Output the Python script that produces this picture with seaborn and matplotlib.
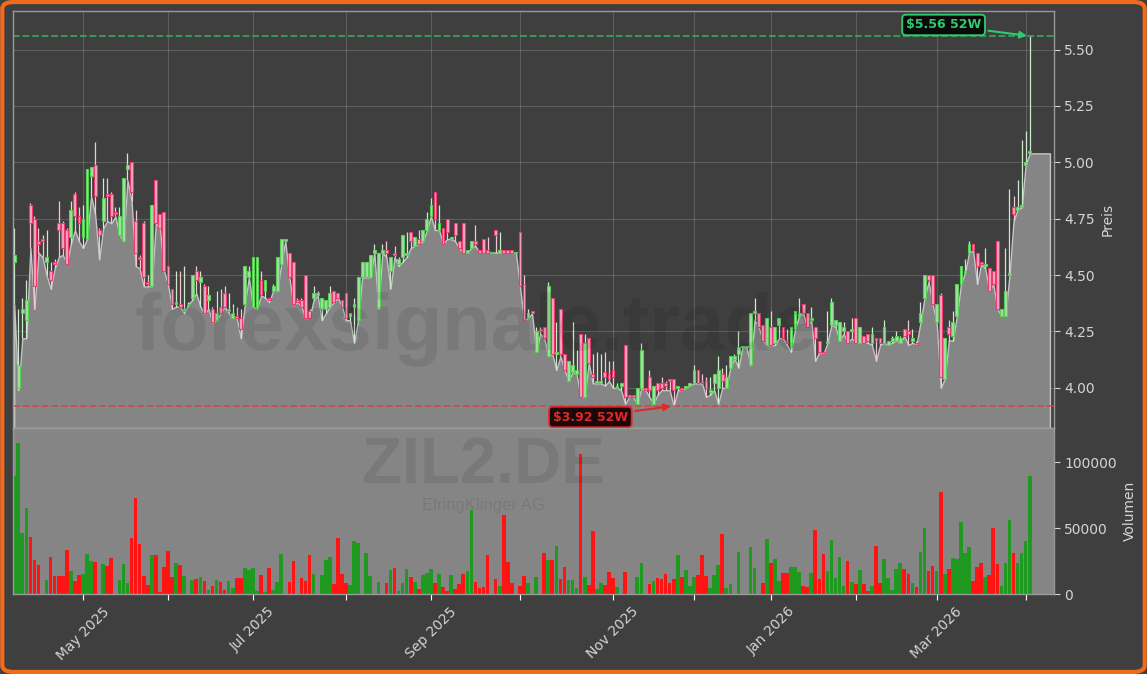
"""
ZIL2.DE (ElringKlinger AG) - Kerzenchart mit Volumen, 52W Hoch/Tief
"""

import matplotlib.pyplot as plt
import numpy as np
import pandas as pd
import seaborn as sns
from matplotlib.patches import FancyBboxPatch
from matplotlib.ticker import FixedLocator, MultipleLocator, FormatStrFormatter

START_DATE = "2025-04-04"
HOLIDAYS = ["2025-04-18", "2025-04-21", "2025-05-01", "2025-12-24", "2025-12-25",
            "2025-12-26", "2025-12-31", "2026-01-01"]

opens = [
    4.56, 4.00, 4.33, 4.30, 4.81, 4.75, 4.65, 4.66, 4.56, 4.52,
    4.56, 4.73, 4.73, 4.70, 4.67, 4.86, 4.76, 4.67, 4.66, 4.94,
    4.99, 4.70, 4.74, 4.86, 4.86, 4.78, 4.68, 4.65, 4.97, 5.00,
    4.74, 4.58, 4.73, 4.47, 4.45, 4.92, 4.77, 4.78, 4.54, 4.44,
    4.37, 4.37, 4.34, 4.37, 4.40, 4.52, 4.47, 4.45, 4.39, 4.35,
    4.30, 4.36, 4.42, 4.34, 4.31, 4.32, 4.31, 4.37, 4.49, 4.36,
    4.35, 4.48, 4.43, 4.40, 4.43, 4.43, 4.55, 4.65, 4.60, 4.56,
    4.39, 4.39, 4.50, 4.34, 4.40, 4.41, 4.35, 4.35, 4.36, 4.43,
    4.42, 4.39, 4.42, 4.32, 4.36, 4.30, 4.49, 4.49, 4.49, 4.60,
    4.35, 4.60, 4.61, 4.52, 4.60, 4.55, 4.58, 4.59, 4.69, 4.63,
    4.66, 4.65, 4.70, 4.76, 4.87, 4.70, 4.71, 4.75, 4.66, 4.73,
    4.65, 4.73, 4.60, 4.62, 4.65, 4.61, 4.66, 4.61, 4.60, 4.70,
    4.60, 4.61, 4.61, 4.61, 4.60, 4.69, 4.46, 4.31, 4.34, 4.16,
    4.26, 4.27, 4.14, 4.40, 4.15, 4.35, 4.15, 4.03, 4.07, 4.06,
    4.24, 3.96, 4.22, 4.06, 4.02, 4.02, 4.07, 4.06, 4.08, 4.00,
    4.01, 4.19, 3.97, 3.97, 3.93, 4.00, 4.00, 4.05, 3.93, 4.02,
    4.02, 4.02, 4.04, 4.04, 4.00, 4.00, 4.00, 4.01, 4.02, 4.08,
    4.03, 4.03, 3.98, 4.02, 4.00, 4.06, 4.00, 4.09, 4.13, 4.15,
    4.18, 4.18, 4.10, 4.33, 4.33, 4.28, 4.19, 4.27, 4.20, 4.28,
    4.27, 4.21, 4.18, 4.26, 4.32, 4.37, 4.33, 4.30, 4.27, 4.21,
    4.16, 4.20, 4.28, 4.28, 4.21, 4.25, 4.25, 4.25, 4.31, 4.20,
    4.23, 4.24, 4.20, 4.22, 4.22, 4.20, 4.19, 4.21, 4.21, 4.20,
    4.26, 4.25, 4.21, 4.20, 4.29, 4.40, 4.50, 4.50, 4.29, 4.41,
    4.04, 4.27, 4.23, 4.32, 4.46, 4.51, 4.60, 4.64, 4.60, 4.56,
    4.54, 4.53, 4.52, 4.65, 4.32, 4.32, 4.50, 4.80, 4.79, 4.80,
    4.99, 5.04,
]
highs = [
    4.71, 4.35, 4.40, 4.48, 4.82, 4.76, 4.71, 4.68, 4.70, 4.56,
    4.57, 4.83, 4.74, 4.71, 4.83, 4.87, 4.80, 4.81, 4.97, 4.98,
    5.09, 4.71, 4.93, 4.93, 4.87, 4.80, 4.80, 4.93, 5.04, 5.00,
    4.79, 4.59, 4.74, 4.50, 4.81, 4.92, 4.77, 4.78, 4.54, 4.44,
    4.52, 4.52, 4.54, 4.38, 4.50, 4.54, 4.52, 4.46, 4.45, 4.36,
    4.43, 4.44, 4.45, 4.42, 4.37, 4.36, 4.35, 4.54, 4.54, 4.58,
    4.58, 4.52, 4.48, 4.40, 4.46, 4.58, 4.66, 4.66, 4.60, 4.56,
    4.40, 4.40, 4.50, 4.35, 4.45, 4.43, 4.40, 4.39, 4.45, 4.43,
    4.42, 4.39, 4.42, 4.33, 4.40, 4.49, 4.56, 4.56, 4.59, 4.64,
    4.60, 4.64, 4.65, 4.58, 4.63, 4.58, 4.68, 4.69, 4.69, 4.67,
    4.70, 4.70, 4.78, 4.84, 4.87, 4.81, 4.71, 4.75, 4.67, 4.73,
    4.65, 4.73, 4.61, 4.65, 4.72, 4.61, 4.66, 4.67, 4.60, 4.70,
    4.69, 4.61, 4.61, 4.61, 4.60, 4.69, 4.50, 4.35, 4.34, 4.27,
    4.27, 4.27, 4.47, 4.40, 4.29, 4.35, 4.15, 4.12, 4.29, 4.17,
    4.24, 4.24, 4.22, 4.15, 4.16, 4.15, 4.16, 4.12, 4.12, 4.02,
    4.02, 4.19, 3.97, 3.97, 4.00, 4.20, 4.00, 4.08, 4.01, 4.02,
    4.05, 4.03, 4.04, 4.04, 4.01, 4.00, 4.01, 4.02, 4.10, 4.08,
    4.06, 4.05, 4.05, 4.06, 4.14, 4.09, 4.10, 4.14, 4.15, 4.25,
    4.18, 4.18, 4.33, 4.40, 4.33, 4.28, 4.31, 4.34, 4.27, 4.31,
    4.27, 4.26, 4.27, 4.34, 4.40, 4.37, 4.33, 4.36, 4.27, 4.21,
    4.16, 4.34, 4.40, 4.30, 4.29, 4.29, 4.25, 4.31, 4.31, 4.27,
    4.23, 4.24, 4.27, 4.22, 4.22, 4.30, 4.21, 4.23, 4.25, 4.23,
    4.26, 4.30, 4.26, 4.21, 4.38, 4.50, 4.50, 4.50, 4.37, 4.42,
    4.22, 4.30, 4.34, 4.46, 4.54, 4.57, 4.65, 4.64, 4.60, 4.56,
    4.62, 4.53, 4.52, 4.65, 4.35, 4.62, 4.88, 4.85, 4.92, 5.10,
    5.14, 5.56,
]
lows = [
    4.37, 3.99, 4.22, 4.22, 4.62, 4.35, 4.60, 4.58, 4.50, 4.44,
    4.53, 4.58, 4.59, 4.55, 4.64, 4.70, 4.65, 4.62, 4.66, 4.85,
    4.77, 4.57, 4.71, 4.74, 4.73, 4.76, 4.68, 4.65, 4.92, 4.83,
    4.54, 4.53, 4.45, 4.45, 4.45, 4.73, 4.71, 4.52, 4.46, 4.35,
    4.36, 4.36, 4.33, 4.37, 4.39, 4.42, 4.36, 4.33, 4.35, 4.29,
    4.30, 4.33, 4.36, 4.33, 4.31, 4.31, 4.22, 4.37, 4.49, 4.36,
    4.35, 4.41, 4.40, 4.38, 4.43, 4.43, 4.55, 4.65, 4.49, 4.37,
    4.38, 4.36, 4.31, 4.31, 4.39, 4.41, 4.30, 4.33, 4.36, 4.38,
    4.40, 4.36, 4.30, 4.30, 4.20, 4.30, 4.49, 4.49, 4.49, 4.60,
    4.35, 4.60, 4.58, 4.44, 4.58, 4.54, 4.56, 4.58, 4.62, 4.63,
    4.64, 4.65, 4.70, 4.76, 4.70, 4.70, 4.64, 4.66, 4.66, 4.65,
    4.62, 4.60, 4.60, 4.62, 4.63, 4.60, 4.60, 4.60, 4.60, 4.60,
    4.60, 4.60, 4.60, 4.60, 4.60, 4.45, 4.30, 4.31, 4.33, 4.16,
    4.24, 4.22, 4.14, 4.15, 4.08, 4.14, 4.08, 4.03, 4.07, 4.06,
    3.96, 3.96, 4.11, 4.02, 4.02, 4.02, 4.01, 4.03, 4.00, 4.00,
    3.99, 3.93, 3.96, 3.96, 3.93, 4.00, 3.99, 3.96, 3.93, 3.97,
    3.99, 3.99, 3.99, 3.92, 3.99, 3.99, 4.00, 4.01, 4.02, 4.02,
    4.02, 3.96, 3.97, 3.99, 3.93, 4.00, 4.00, 4.09, 4.13, 4.09,
    4.18, 4.18, 4.10, 4.30, 4.27, 4.21, 4.19, 4.19, 4.19, 4.22,
    4.22, 4.19, 4.16, 4.26, 4.32, 4.33, 4.27, 4.30, 4.12, 4.16,
    4.15, 4.20, 4.28, 4.27, 4.21, 4.24, 4.20, 4.22, 4.20, 4.20,
    4.20, 4.20, 4.19, 4.12, 4.19, 4.20, 4.19, 4.20, 4.21, 4.20,
    4.23, 4.19, 4.20, 4.19, 4.29, 4.40, 4.47, 4.37, 4.29, 4.00,
    4.04, 4.21, 4.21, 4.32, 4.46, 4.51, 4.60, 4.61, 4.46, 4.55,
    4.53, 4.43, 4.46, 4.35, 4.32, 4.32, 4.50, 4.74, 4.79, 4.80,
    4.99, 5.04,
]
closes = [
    4.59, 4.10, 4.35, 4.39, 4.73, 4.45, 4.64, 4.65, 4.58, 4.48,
    4.55, 4.70, 4.62, 4.55, 4.79, 4.76, 4.73, 4.75, 4.97, 4.98,
    4.85, 4.68, 4.84, 4.85, 4.76, 4.77, 4.76, 4.93, 4.99, 4.87,
    4.60, 4.57, 4.49, 4.46, 4.81, 4.73, 4.71, 4.52, 4.46, 4.37,
    4.38, 4.36, 4.35, 4.37, 4.50, 4.48, 4.49, 4.33, 4.41, 4.29,
    4.33, 4.33, 4.36, 4.35, 4.33, 4.31, 4.26, 4.54, 4.52, 4.58,
    4.58, 4.41, 4.48, 4.39, 4.45, 4.58, 4.66, 4.66, 4.49, 4.37,
    4.38, 4.36, 4.31, 4.31, 4.42, 4.42, 4.40, 4.39, 4.42, 4.38,
    4.40, 4.36, 4.31, 4.33, 4.37, 4.49, 4.56, 4.56, 4.59, 4.61,
    4.60, 4.61, 4.60, 4.58, 4.59, 4.57, 4.68, 4.60, 4.65, 4.67,
    4.64, 4.70, 4.75, 4.81, 4.75, 4.73, 4.64, 4.69, 4.67, 4.68,
    4.62, 4.60, 4.61, 4.65, 4.64, 4.60, 4.60, 4.60, 4.60, 4.68,
    4.61, 4.60, 4.60, 4.60, 4.60, 4.45, 4.30, 4.33, 4.33, 4.25,
    4.25, 4.22, 4.45, 4.15, 4.16, 4.15, 4.08, 4.12, 4.10, 4.08,
    3.96, 4.20, 4.11, 4.05, 4.03, 4.03, 4.05, 4.04, 4.05, 4.01,
    4.02, 3.96, 3.96, 3.96, 4.00, 4.17, 3.99, 3.99, 4.01, 3.99,
    4.00, 4.01, 4.03, 3.99, 4.01, 3.99, 4.01, 4.02, 4.08, 4.02,
    4.02, 4.00, 3.99, 4.06, 4.08, 4.03, 4.05, 4.14, 4.14, 4.18,
    4.18, 4.18, 4.33, 4.34, 4.27, 4.21, 4.31, 4.19, 4.27, 4.31,
    4.22, 4.20, 4.27, 4.34, 4.33, 4.33, 4.27, 4.31, 4.22, 4.16,
    4.15, 4.21, 4.38, 4.30, 4.29, 4.27, 4.20, 4.26, 4.20, 4.27,
    4.20, 4.21, 4.24, 4.21, 4.20, 4.27, 4.21, 4.22, 4.23, 4.22,
    4.23, 4.24, 4.22, 4.19, 4.33, 4.50, 4.48, 4.37, 4.37, 4.05,
    4.22, 4.24, 4.29, 4.46, 4.54, 4.52, 4.64, 4.61, 4.54, 4.55,
    4.55, 4.43, 4.46, 4.35, 4.35, 4.43, 4.51, 4.77, 4.80, 4.81,
    5.00, 5.05,
]
volumes = [
    89400, 114600, 46500, 65400, 43400, 25800, 22000, 0, 10600, 28300,
    13600, 13600, 13600, 33300, 17400, 9900, 14400, 15200, 30300, 25000,
    24000, 0, 22700, 21200, 27300, 0, 10600, 22700, 8000, 42400,
    72700, 37900, 13600, 6800, 29500, 29500, 1800, 20700, 32600, 13100,
    23200, 22000, 13600, 0, 10600, 11400, 12600, 9900, 3000, 6100,
    10600, 9100, 3000, 9900, 4300, 12100, 12100, 19700, 18200, 19700,
    2300, 14400, 1500, 19700, 3000, 9100, 30300, 0, 9100, 25000,
    0, 12100, 9900, 29500, 15200, 0, 14400, 25800, 28000, 7600,
    42400, 15200, 8300, 6800, 40200, 38600, 0, 31000, 13600, 0,
    9100, 0, 8300, 18200, 19700, 2300, 8300, 18900, 12900, 9100,
    3800, 14400, 15900, 18900, 8300, 15200, 5300, 2300, 14400, 3800,
    7600, 15200, 17400, 63600, 9100, 4500, 5300, 29500, 0, 11400,
    6000, 59800, 24200, 8300, 0, 6000, 13600, 8300, 0, 12900,
    0, 31000, 25800, 25800, 36400, 11400, 20500, 10600, 10600, 4500,
    106000, 12600, 6800, 47700, 3500, 8000, 6800, 16400, 11900, 5000,
    0, 16400, 0, 0, 12900, 23200, 0, 7600, 9600, 11900,
    11400, 15200, 8300, 11400, 29500, 12900, 18200, 6000, 12900, 14400,
    29500, 13600, 4500, 14400, 22000, 45500, 4300, 7600, 0, 31800,
    0, 0, 35600, 19700, 0, 8300, 41700, 23200, 26500, 9900,
    15900, 15900, 20500, 20500, 16700, 6000, 5500, 15900, 48500, 11400,
    30300, 17400, 40900, 12100, 28000, 6000, 25000, 9100, 7600, 17900,
    7600, 2000, 6000, 36400, 8300, 26500, 12100, 3000, 18900, 23200,
    18900, 15200, 8300, 5300, 31800, 50000, 17400, 21200, 17400, 77300,
    15200, 18900, 27300, 26500, 54500, 31000, 35600, 9900, 20500, 23500,
    12900, 14400, 50000, 22700, 6000, 23500, 56000, 31000, 23500, 31000,
    40200, 89400,
]
# area line keeps running a few sessions past the last candle
area_tail = [5.04, 5.04, 5.04, 5.04, 5.04]

TICKER = "ZIL2.DE"
COMPANY = "ElringKlinger AG"
WATERMARK = "forexsignale.trade"

BG = "#3f3f3f"
AREA = "#858585"
TXT = "#d4d4d4"
UP_EDGE, UP_FACE, UP_WICK = "#55d055", "#a9d9a9", "#cdeacd"
DN_EDGE, DN_FACE, DN_WICK = "#ee3a6e", "#f0a9bd", "#f3c6d2"
VOL_UP, VOL_DN = "#1f991f", "#ff1414"


def main() -> None:
    sns.set_theme(style="dark", rc={"axes.facecolor": BG, "figure.facecolor": BG})
    plt.rcParams["font.family"] = ["DejaVu Sans"]

    n = len(closes)
    x = np.arange(n)
    o, h, l, c = (np.array(a) for a in (opens, highs, lows, closes))
    up = c >= o
    dates = pd.bdate_range(START_DATE, periods=n, freq="C", holidays=HOLIDAYS)

    fig = plt.figure(figsize=(11.47, 6.74), dpi=100)
    ax = fig.add_axes([13 / 1147, 1 - 428 / 674, 1041 / 1147, 417 / 674])
    axv = fig.add_axes([13 / 1147, 1 - 594 / 674, 1041 / 1147, 166 / 674], sharex=ax)

    y_lo, y_hi = min(lows) * 0.975, max(highs) * 1.02

    # grey area under the lows
    area = np.concatenate([l, area_tail])
    xa = np.arange(len(area))
    ax.fill_between(xa, area, y_lo, color=AREA, edgecolor="#c4c4c4", linewidth=1.0, zorder=1)

    # candles
    ax.vlines(x[up], l[up], h[up], color=UP_WICK, linewidth=0.9, zorder=2)
    ax.vlines(x[~up], l[~up], h[~up], color=DN_WICK, linewidth=0.9, zorder=2)
    body_lo = np.minimum(o, c)
    body_h = np.maximum(np.abs(c - o), 0.004)
    ax.bar(x[up], body_h[up], bottom=body_lo[up], width=0.7, color=UP_FACE,
           edgecolor=UP_EDGE, linewidth=0.8, zorder=3)
    ax.bar(x[~up], body_h[~up], bottom=body_lo[~up], width=0.7, color=DN_FACE,
           edgecolor=DN_EDGE, linewidth=0.8, zorder=3)

    # 52 week high / low
    i_hi, i_lo = int(np.argmax(h)), int(np.argmin(l))
    ax.axhline(h[i_hi], color="#36b865", linestyle="--", linewidth=1.3, alpha=0.8, zorder=2)
    ax.axhline(l[i_lo], color="#d94040", linestyle="--", linewidth=1.3, alpha=0.8, zorder=2)
    ax.annotate(f"${h[i_hi]:.2f} 52W", xy=(i_hi, h[i_hi]), xytext=(-62, 8),
                textcoords="offset points", ha="center", va="center",
                fontsize=9, fontweight="bold", color="#2ecc71",
                bbox=dict(boxstyle="round,pad=0.3", fc="#0a0a0a", ec="#2ecc71", lw=1.3),
                arrowprops=dict(arrowstyle="-|>", color="#2ecc71", lw=1.5, mutation_scale=10),
                zorder=6)
    ax.annotate(f"${l[i_lo]:.2f} 52W", xy=(i_lo, l[i_lo]), xytext=(-60, -8),
                textcoords="offset points", ha="center", va="center",
                fontsize=9, fontweight="bold", color="#e02828",
                bbox=dict(boxstyle="round,pad=0.3", fc="#1c0808", ec="#e02828", lw=1.3),
                arrowprops=dict(arrowstyle="-|>", color="#e02828", lw=1.5, mutation_scale=10),
                zorder=6)

    # volume
    vol = np.array(volumes)
    axv.set_facecolor(AREA)
    axv.bar(x, vol, width=0.9, color=np.where(up, VOL_UP, VOL_DN), linewidth=0, zorder=2)
    axv.set_ylim(0, vol.max() * 1.1)

    # axes styling
    ax.set_xlim(-0.3, 257.0)
    ax.set_ylim(y_lo, y_hi)
    month_idx = [i for i in range(1, n) if dates[i].month != dates[i - 1].month]
    month_lbl = [dates[i].strftime("%b %Y") if dates[i].month % 2 == 1 else "" for i in month_idx]
    for a in (ax, axv):
        a.yaxis.tick_right()
        a.yaxis.set_label_position("right")
        a.xaxis.set_major_locator(FixedLocator(month_idx))
        a.tick_params(colors=TXT, labelsize=10, length=4, width=0.8,
                      right=True, left=False)
        for s in a.spines.values():
            s.set_color("#9a9a9a")
            s.set_linewidth(1.0)
    ax.yaxis.set_major_locator(MultipleLocator(0.25))
    ax.yaxis.set_major_formatter(FormatStrFormatter("%.2f"))
    ax.tick_params(axis="x", labelbottom=False, bottom=False)
    axv.tick_params(axis="x", bottom=True, length=4, width=0.8, color="white")
    ax.grid(True, color="white", alpha=0.16, linewidth=0.8)
    ax.set_axisbelow(True)
    axv.grid(False)
    axv.yaxis.set_major_locator(MultipleLocator(50000))
    axv.set_xticks(month_idx, month_lbl, rotation=45, ha="center")
    ax.set_ylabel("Preis", color=TXT, fontsize=10)
    axv.set_ylabel("Volumen", color=TXT, fontsize=10)

    # watermarks
    fig.text(476 / 1147, 1 - 350 / 674, WATERMARK, fontsize=57, fontweight="bold",
             family="Liberation Sans", color="black", alpha=0.09, ha="center", va="baseline")
    fig.text(483 / 1147, 1 - 483 / 674, TICKER, fontsize=47, fontweight="bold",
             family="Liberation Sans", color="black", alpha=0.09, ha="center", va="baseline")
    fig.text(483 / 1147, 1 - 510 / 674, COMPANY, fontsize=12,
             family="Liberation Sans", color="black", alpha=0.09, ha="center", va="baseline")

    # orange frame
    fig.patches.append(FancyBboxPatch((0.002, 0.003), 0.996, 0.994,
                                      boxstyle="round,pad=0,rounding_size=0.01",
                                      transform=fig.transFigure, fill=False,
                                      edgecolor="#f26a1b", linewidth=3))

    fig.savefig("out.png", dpi=100, facecolor=BG)
    plt.close(fig)


if __name__ == "__main__":
    main()
